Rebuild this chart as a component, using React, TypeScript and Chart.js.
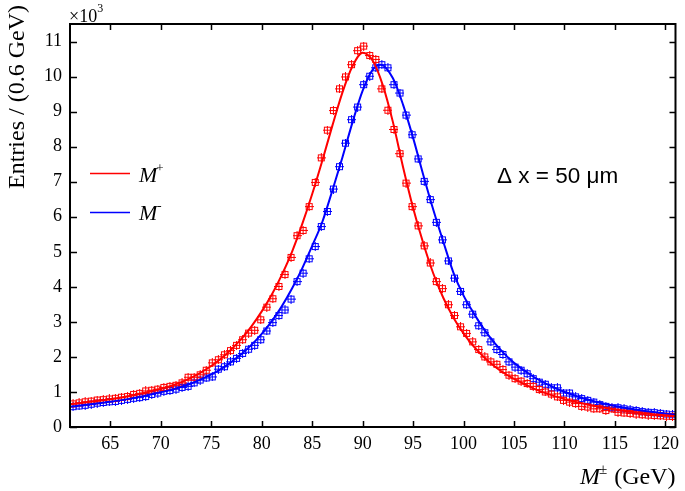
import React, { useEffect, useRef } from "react";
import { Chart, registerables } from "chart.js";

Chart.register(...registerables);

// Bin centres (GeV), bin width 0.6 GeV
const BIN_CENTERS = [
  61.3, 61.9, 62.5, 63.1, 63.7, 64.3, 64.9, 65.5, 66.1, 66.7,
  67.3, 67.9, 68.5, 69.1, 69.7, 70.3, 70.9, 71.5, 72.1, 72.7,
  73.3, 73.9, 74.5, 75.1, 75.7, 76.3, 76.9, 77.5, 78.1, 78.7,
  79.3, 79.9, 80.5, 81.1, 81.7, 82.3, 82.9, 83.5, 84.1, 84.7,
  85.3, 85.9, 86.5, 87.1, 87.7, 88.3, 88.9, 89.5, 90.1, 90.7,
  91.3, 91.9, 92.5, 93.1, 93.7, 94.3, 94.9, 95.5, 96.1, 96.7,
  97.3, 97.9, 98.5, 99.1, 99.7, 100.3, 100.9, 101.5, 102.1, 102.7,
  103.3, 103.9, 104.5, 105.1, 105.7, 106.3, 106.9, 107.5, 108.1, 108.7,
  109.3, 109.9, 110.5, 111.1, 111.7, 112.3, 112.9, 113.5, 114.1, 114.7,
  115.3, 115.9, 116.5, 117.1, 117.7, 118.3, 118.9, 119.5, 120.1, 120.7,
];

// Entries (x10^3) for M+
const M_PLUS = [
  0.66, 0.69, 0.72, 0.74, 0.77, 0.78, 0.80, 0.82, 0.85, 0.87,
  0.93, 0.96, 1.03, 1.05, 1.08, 1.13, 1.16, 1.19, 1.26, 1.42,
  1.42, 1.49, 1.62, 1.83, 1.92, 2.06, 2.18, 2.33, 2.49, 2.68,
  2.76, 3.06, 3.42, 3.66, 4.01, 4.35, 4.84, 5.46, 5.61, 6.29,
  6.98, 7.68, 8.47, 9.03, 9.65, 9.99, 10.34, 10.74, 10.87, 10.60,
  10.49, 9.65, 9.04, 8.49, 7.80, 6.96, 6.29, 5.74, 5.17, 4.68,
  4.15, 3.95, 3.49, 3.18, 2.86, 2.67, 2.43, 2.21, 2.00, 1.86,
  1.79, 1.64, 1.48, 1.38, 1.31, 1.24, 1.16, 1.07, 1.00, 0.94,
  0.86, 0.76, 0.71, 0.67, 0.59, 0.57, 0.52, 0.52, 0.47, 0.52,
  0.42, 0.40, 0.39, 0.37, 0.35, 0.34, 0.33, 0.32, 0.31, 0.30,
];

// Entries (x10^3) for M-
const M_MINUS = [
  0.58, 0.60, 0.62, 0.65, 0.68, 0.70, 0.72, 0.73, 0.76, 0.79,
  0.82, 0.84, 0.87, 0.93, 0.97, 1.02, 1.04, 1.08, 1.13, 1.16,
  1.26, 1.34, 1.40, 1.43, 1.65, 1.72, 1.86, 1.96, 2.10, 2.22,
  2.33, 2.49, 2.74, 2.98, 3.18, 3.34, 3.65, 4.15, 4.39, 4.80,
  5.15, 5.72, 6.15, 6.79, 7.43, 8.10, 8.77, 9.13, 9.77, 10.01,
  10.25, 10.34, 10.25, 9.77, 9.53, 8.90, 8.34, 7.65, 7.01, 6.49,
  5.84, 5.34, 4.74, 4.25, 3.87, 3.49, 3.22, 2.89, 2.69, 2.43,
  2.21, 2.07, 1.86, 1.71, 1.62, 1.52, 1.38, 1.28, 1.22, 1.12,
  1.12, 0.97, 0.97, 0.86, 0.81, 0.76, 0.71, 0.64, 0.59, 0.55,
  0.55, 0.52, 0.49, 0.47, 0.44, 0.42, 0.41, 0.39, 0.37, 0.35,
];

// Fit curves
const FIT_PLUS_X = [61, 63, 65, 67, 69, 71, 73, 75, 76, 77, 78, 79, 80, 81, 82, 83, 84, 85, 86, 87, 88, 89, 90, 91, 92, 93, 94, 95, 96, 97, 98, 99, 100, 101, 102, 103, 104, 105, 107, 109, 111, 113, 115, 117, 119, 121];
const FIT_PLUS_Y = [0.65, 0.72, 0.79, 0.89, 1.02, 1.17, 1.40, 1.74, 1.96, 2.22, 2.52, 2.88, 3.30, 3.78, 4.35, 5.00, 5.78, 6.65, 7.60, 8.60, 9.55, 10.30, 10.68, 10.45, 9.75, 8.70, 7.42, 6.25, 5.25, 4.38, 3.68, 3.12, 2.67, 2.30, 2.00, 1.75, 1.54, 1.37, 1.09, 0.88, 0.72, 0.60, 0.50, 0.42, 0.36, 0.31];

const FIT_MINUS_X = [61, 63, 65, 67, 69, 71, 73, 75, 76, 77, 78, 79, 80, 81, 82, 83, 84, 85, 86, 87, 88, 89, 90, 91, 91.8, 93, 94, 95, 96, 97, 98, 99, 100, 101, 102, 103, 104, 105, 107, 109, 111, 113, 115, 117, 119, 121];
const FIT_MINUS_Y = [0.58, 0.65, 0.72, 0.81, 0.93, 1.06, 1.24, 1.50, 1.66, 1.86, 2.08, 2.35, 2.66, 3.02, 3.45, 3.95, 4.52, 5.17, 5.85, 6.75, 7.70, 8.70, 9.60, 10.20, 10.34, 9.95, 9.20, 8.25, 7.20, 6.20, 5.28, 4.40, 3.75, 3.25, 2.80, 2.42, 2.10, 1.83, 1.42, 1.12, 0.90, 0.73, 0.60, 0.50, 0.42, 0.35];

const X_TICKS = [65, 70, 75, 80, 85, 90, 95, 100, 105, 110, 115, 120];
const Y_TICKS = [0, 1, 2, 3, 4, 5, 6, 7, 8, 9, 10, 11];

const RED = "#ff0000";
const BLUE = "#0000ff";
const SERIF = '"Liberation Serif", "Times New Roman", serif';
const SANS = '"Liberation Sans", Arial, sans-serif';

function makeMarker(color: string): HTMLCanvasElement {
  const c = document.createElement("canvas");
  c.width = 9;
  c.height = 9;
  const g = c.getContext("2d")!;
  g.strokeStyle = color;
  g.lineWidth = 1;
  g.strokeRect(1.5, 1.5, 6, 6);
  g.beginPath();
  g.moveTo(4.5, 0);
  g.lineTo(4.5, 9);
  g.moveTo(0, 4.5);
  g.lineTo(9, 4.5);
  g.stroke();
  return c;
}

const decorPlugin = {
  id: "decor",
  afterDraw(chart: any) {
    const { ctx, chartArea } = chart;
    const { left, right, top, bottom } = chartArea;
    const xs = chart.scales.x;
    const ys = chart.scales.y;
    ctx.save();
    // frame
    ctx.strokeStyle = "#000";
    ctx.lineWidth = 2;
    ctx.strokeRect(left, top, right - left, bottom - top);
    // ticks (inward)
    ctx.lineWidth = 1.5;
    ctx.beginPath();
    for (const v of X_TICKS) {
      const px = Math.round(xs.getPixelForValue(v)) + 0.5;
      ctx.moveTo(px, bottom);
      ctx.lineTo(px, bottom - 6);
      ctx.moveTo(px, top);
      ctx.lineTo(px, top + 6);
    }
    for (const v of Y_TICKS) {
      const py = Math.round(ys.getPixelForValue(v)) + 0.5;
      ctx.moveTo(left, py);
      ctx.lineTo(left + 7, py);
      ctx.moveTo(right, py);
      ctx.lineTo(right - 6, py);
    }
    ctx.stroke();

    ctx.fillStyle = "#000";
    // y title
    ctx.save();
    ctx.translate(24, 5);
    ctx.rotate(-Math.PI / 2);
    ctx.font = `24px ${SERIF}`;
    ctx.textAlign = "right";
    ctx.textBaseline = "alphabetic";
    ctx.fillText("Entries / (0.6 GeV)", 0, 0);
    ctx.restore();

    // x10^3
    ctx.textAlign = "left";
    ctx.textBaseline = "alphabetic";
    ctx.font = `18px ${SERIF}`;
    ctx.fillText("\u00d710", 69, 22);
    const w10 = ctx.measureText("\u00d710").width;
    ctx.font = `12px ${SERIF}`;
    ctx.fillText("3", 69 + w10, 12);

    // x title: M± (GeV)
    const fM = `italic 24px ${SERIF}`;
    const fSup = `15px ${SERIF}`;
    const fMain = `24px ${SERIF}`;
    ctx.font = fM;
    const wM = ctx.measureText("M").width;
    ctx.font = fSup;
    const wPm = ctx.measureText("\u00b1").width;
    ctx.font = fMain;
    const wG = ctx.measureText(" (GeV)").width;
    const x0 = right - (wM + wPm + wG);
    const by = 484;
    ctx.font = fM;
    ctx.fillText("M", x0, by);
    ctx.font = fSup;
    ctx.fillText("\u00b1", x0 + wM - 1, by - 10);
    ctx.font = fMain;
    ctx.fillText(" (GeV)", x0 + wM + wPm, by);

    // legend
    ctx.lineWidth = 1.5;
    ctx.strokeStyle = RED;
    ctx.beginPath();
    ctx.moveTo(90, 173.5);
    ctx.lineTo(130, 173.5);
    ctx.stroke();
    ctx.strokeStyle = BLUE;
    ctx.beginPath();
    ctx.moveTo(90, 212.5);
    ctx.lineTo(130, 212.5);
    ctx.stroke();
    ctx.fillStyle = "#000";
    ctx.font = `italic 22px ${SERIF}`;
    ctx.fillText("M", 139, 182);
    const wLM = ctx.measureText("M").width;
    ctx.font = `13px ${SERIF}`;
    ctx.fillText("+", 139 + wLM - 1, 172);
    ctx.font = `italic 22px ${SERIF}`;
    ctx.fillText("M", 139, 220);
    ctx.font = `13px ${SERIF}`;
    ctx.fillText("-", 139 + wLM, 210);

    // annotation
    ctx.font = `22.5px ${SANS}`;
    ctx.fillText("\u0394 x = 50 \u03bcm", 497, 183);

    ctx.restore();
  },
};

export default function App() {
  const ref = useRef<HTMLCanvasElement | null>(null);

  useEffect(() => {
    document.body.style.margin = "0";
    const canvas = ref.current;
    if (!canvas) return;
    const mRed = makeMarker(RED);
    const mBlue = makeMarker(BLUE);
    const toXY = (xs: number[], ys: number[]) => xs.map((x, i) => ({ x, y: ys[i] }));

    const chart = new Chart(canvas, {
      type: "line",
      data: {
        datasets: [
          {
            label: "fit M+",
            data: toXY(FIT_PLUS_X, FIT_PLUS_Y),
            borderColor: RED,
            borderWidth: 2,
            pointRadius: 0,
            cubicInterpolationMode: "monotone",
            fill: false,
          },
          {
            label: "fit M-",
            data: toXY(FIT_MINUS_X, FIT_MINUS_Y),
            borderColor: BLUE,
            borderWidth: 2,
            pointRadius: 0,
            cubicInterpolationMode: "monotone",
            fill: false,
          },
          {
            label: "M+",
            data: toXY(BIN_CENTERS, M_PLUS),
            showLine: false,
            pointStyle: mRed as any,
            pointRadius: 4,
            borderColor: RED,
            backgroundColor: RED,
          },
          {
            label: "M-",
            data: toXY(BIN_CENTERS, M_MINUS),
            showLine: false,
            pointStyle: mBlue as any,
            pointRadius: 4,
            borderColor: BLUE,
            backgroundColor: BLUE,
          },
        ],
      },
      options: {
        responsive: false,
        animation: false,
        events: [],
        layout: { padding: { top: 24, right: 6, left: 0, bottom: 0 } },
        plugins: {
          legend: { display: false },
          tooltip: { enabled: false },
        },
        scales: {
          x: {
            type: "linear",
            min: 61,
            max: 121,
            grid: { display: false, drawTicks: false },
            border: { display: false },
            afterBuildTicks: (s: any) => {
              s.ticks = X_TICKS.map((v) => ({ value: v }));
            },
            afterFit: (s: any) => {
              s.height = 64;
            },
            ticks: {
              padding: 6,
              color: "#000",
              font: { family: SERIF, size: 18 },
              maxRotation: 0,
              autoSkip: false,
            },
          },
          y: {
            type: "linear",
            min: 0,
            max: 11.5,
            grid: { display: false, drawTicks: false },
            border: { display: false },
            afterBuildTicks: (s: any) => {
              s.ticks = Y_TICKS.map((v) => ({ value: v }));
            },
            afterFit: (s: any) => {
              s.width = 70;
            },
            ticks: {
              padding: 8,
              color: "#000",
              font: { family: SERIF, size: 18 },
              autoSkip: false,
            },
          },
        },
      } as any,
      plugins: [decorPlugin],
    });
    return () => chart.destroy();
  }, []);

  return (
    <canvas
      ref={ref}
      width={685}
      height={491}
      style={{ display: "block", width: 685, height: 491 }}
    />
  );
}
